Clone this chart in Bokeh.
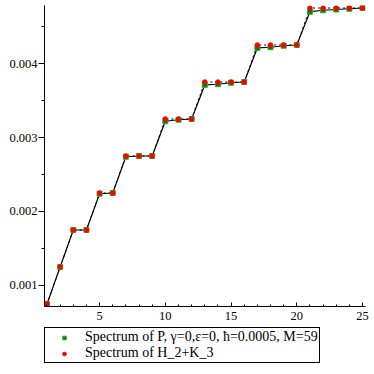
from bokeh.plotting import figure
from bokeh.layouts import column
from bokeh.models import (Range1d, SingleIntervalTicker, Legend, LegendItem,
                          ColumnDataSource, NumeralTickFormatter)
from bokeh.embed import file_html
from bokeh.resources import INLINE

n = list(range(1, 26))
spec_P = [0.00075, 0.00125, 0.00175, 0.00175, 0.00224, 0.00225, 0.00274, 0.00275, 0.00275,
          0.00322, 0.00324, 0.00325, 0.00371, 0.00372, 0.00374, 0.00375,
          0.00421, 0.00422, 0.00424, 0.00425, 0.00470, 0.00472, 0.00473, 0.00474, 0.00475]
spec_H = [0.00075, 0.00125, 0.00175, 0.00175, 0.00225, 0.00225, 0.00275, 0.00275, 0.00275,
          0.00325, 0.00325, 0.00325, 0.00375, 0.00375, 0.00375, 0.00375,
          0.00425, 0.00425, 0.00425, 0.00425, 0.00475, 0.00475, 0.00475, 0.00475, 0.00475]
label_P = "Spectrum of P, \u03b3=0,\u03b5=0, \u0127=0.0005, M=59"
label_H = "Spectrum of H_2+K_3"

P_STYLE = dict(marker="square", size=5, fill_color="#008000", line_color="#33aa33")
H_STYLE = dict(marker="circle", size=4.5, fill_color="#ff0000", line_color="#ff0000")

src = ColumnDataSource(dict(n=n, p=spec_P, h=spec_H))

p = figure(width=370, height=327, output_backend="svg", toolbar_location=None,
           x_range=Range1d(0.81, 25.225), y_range=Range1d(0.000716, 0.004784),
           min_border_left=40, min_border_right=5, min_border_top=5, min_border_bottom=21)
p.outline_line_color = None
p.xgrid.visible = False
p.ygrid.visible = False

p.line("n", "h", source=src, line_color="black", line_width=1, line_dash="2 3")
p.line("n", "p", source=src, line_color="black", line_width=1.2)
p.scatter("n", "p", source=src, **P_STYLE)
p.scatter("n", "h", source=src, **H_STYLE)

font = "Liberation Serif"
p.xaxis.ticker = SingleIntervalTicker(interval=5, num_minor_ticks=5)
p.yaxis.ticker = SingleIntervalTicker(interval=0.001, num_minor_ticks=2)
p.yaxis.formatter = NumeralTickFormatter(format="0.000")
p.axis.major_label_text_font = font
p.axis.major_label_text_font_size = "12.5px"
p.axis.major_label_text_color = "black"
p.axis.axis_line_color = "black"
p.axis.major_tick_line_color = "black"
p.axis.minor_tick_line_color = "black"
p.xaxis.major_tick_in = 4
p.xaxis.major_tick_out = 0
p.xaxis.minor_tick_in = 2
p.xaxis.minor_tick_out = 0
p.xaxis.major_label_standoff = 5
p.yaxis.major_tick_in = 0
p.yaxis.major_tick_out = 6
p.yaxis.minor_tick_in = 0
p.yaxis.minor_tick_out = 3
p.yaxis.major_label_standoff = 1

# legend panel below the plot (swatch renderers sit outside the visible range)
lg = figure(width=370, height=40, output_backend="svg", toolbar_location=None,
            x_range=Range1d(0, 1), y_range=Range1d(0, 1),
            x_axis_location=None, y_axis_location=None,
            min_border_left=44, min_border_right=0, min_border_top=0, min_border_bottom=0)
lg.outline_line_color = None
lg.xgrid.visible = False
lg.ygrid.visible = False
lP = lg.scatter(x=[-5], y=[-5], **P_STYLE)
lH = lg.scatter(x=[-5], y=[-5], **H_STYLE)

legend = Legend(items=[LegendItem(label=label_P, renderers=[lP]),
                       LegendItem(label=label_H, renderers=[lH])],
                location="top_left", orientation="vertical")
legend.margin = 0
legend.padding = 1
legend.spacing = 0
legend.glyph_width = 36
legend.glyph_height = 9
legend.label_height = 16
legend.label_standoff = 3
legend.label_text_font = font
legend.label_text_font_size = "14px"
legend.label_text_color = "black"
legend.border_line_color = "black"
legend.border_line_alpha = 1.0
legend.border_line_width = 1
legend.background_fill_color = "white"
legend.background_fill_alpha = 1.0
lg.add_layout(legend, "center")

layout = column(p, lg, spacing=0)
open("out.html", "w").write(file_html(layout, INLINE))
